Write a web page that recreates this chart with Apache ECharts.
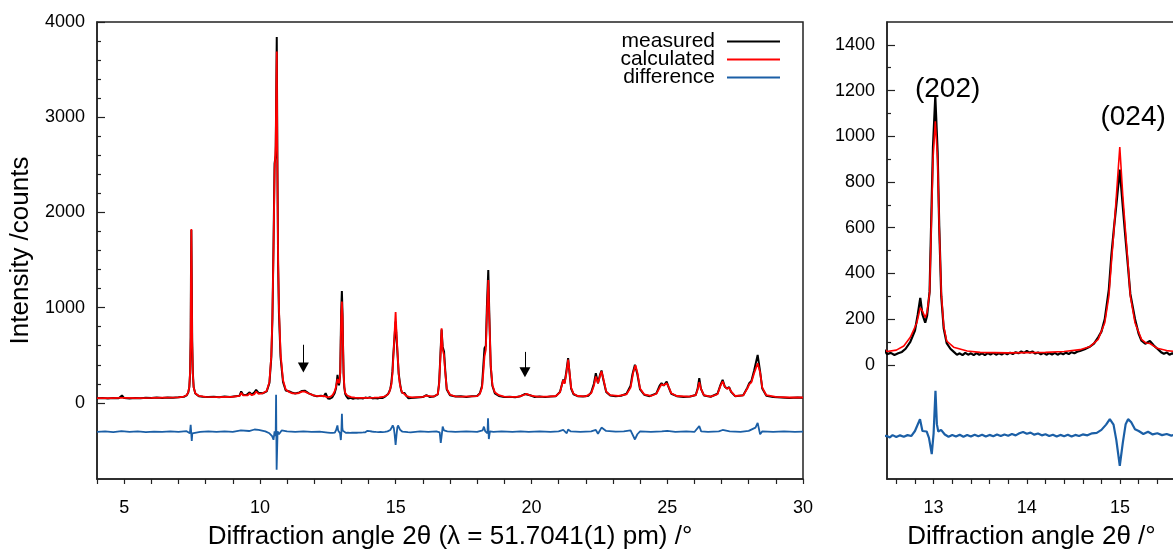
<!DOCTYPE html>
<html>
<head>
<meta charset="utf-8">
<script src="https://cdn.jsdelivr.net/npm/echarts@6/dist/echarts.min.js"></script>
<style>
html,body{margin:0;padding:0;background:#fff;}
#chart{width:1173px;height:550px;}
</style>
</head>
<body>
<div id="chart"></div>
<script>
// ---- data (2theta / deg, intensity / counts) ----
const measured = [
[4.0,48],[4.2,52],[4.4,46],[4.6,51],[4.8,47],[4.92,78],[5.0,50],[5.2,46],[5.4,52],[5.6,48],[5.8,53],[6.0,50],[6.2,55],[6.4,52],[6.6,57],[6.8,54],[7.0,58],[7.2,64],[7.3,78],[7.36,108],[7.4,165],[7.43,320],[7.45,690],[7.46,1290],[7.475,1815],[7.49,1260],[7.505,660],[7.53,310],[7.56,165],[7.62,98],[7.75,70],[7.9,64],[8.1,60],[8.3,65],[8.5,58],[8.7,66],[8.9,62],[9.1,70],[9.25,75],[9.31,120],[9.38,85],[9.5,82],[9.62,110],[9.7,88],[9.8,110],[9.86,136],[9.95,105],[10.1,100],[10.25,120],[10.35,210],[10.42,480],[10.46,880],[10.5,1650],[10.54,2515],[10.58,2600],[10.62,3843],[10.645,2450],[10.67,1450],[10.7,950],[10.76,480],[10.85,220],[10.95,130],[11.09,119],[11.2,105],[11.3,98],[11.45,110],[11.55,125],[11.65,128],[11.8,100],[11.95,80],[12.1,70],[12.25,74],[12.35,68],[12.42,101],
[12.5,46],[12.54,52],[12.58,43],[12.62,50],[12.66,56],[12.7,70],[12.75,100],[12.8,150],[12.83,220],[12.857,293],[12.88,220],[12.91,184],[12.93,215],[12.957,320],[12.975,640],[12.993,950],[13.018,1174],[13.043,930],[13.06,610],[13.082,300],[13.108,160],[13.14,95],[13.18,70],[13.22,55],[13.25,44],[13.28,50],[13.31,42],[13.34,52],[13.37,44],[13.4,50],[13.43,42],[13.46,51],[13.49,44],[13.52,50],[13.55,42],[13.58,51],[13.61,45],[13.64,52],[13.67,44],[13.7,50],[13.73,45],[13.76,52],[13.79,46],[13.82,53],[13.85,47],[13.88,55],[13.91,50],[13.94,58],[13.97,52],[14.0,60],[14.03,53],[14.06,58],[14.09,49],[14.12,54],[14.15,46],[14.18,52],[14.21,44],[14.24,51],[14.27,45],[14.3,52],[14.33,44],[14.36,51],[14.39,46],[14.42,53],[14.45,47],[14.48,55],[14.51,50],[14.54,57],[14.57,60],[14.62,68],[14.68,80],[14.72,92],[14.765,120],[14.8,145],[14.836,200],[14.88,330],[14.907,480],[14.935,600],[14.96,700],[14.997,854],[15.03,690],[15.057,560],[15.085,430],[15.11,310],[15.16,200],[15.2,135],[15.23,105],[15.27,92],[15.32,104],[15.36,85],[15.4,70],[15.44,55],[15.47,48],[15.5,54],[15.53,44],[15.56,50],[15.6,46],
[15.8,56],[16.0,60],[16.13,80],[16.25,62],[16.4,66],[16.55,90],[16.6,210],[16.65,520],[16.69,770],[16.73,590],[16.78,540],[16.82,360],[16.88,140],[17.0,80],[17.2,66],[17.4,70],[17.6,62],[17.8,68],[18.0,72],[18.1,100],[18.18,180],[18.23,400],[18.27,573],[18.32,600],[18.36,1020],[18.41,1396],[18.45,900],[18.5,380],[18.56,180],[18.65,100],[18.8,72],[19.0,60],[19.2,64],[19.4,58],[19.6,70],[19.75,92],[19.82,101],[19.95,80],[20.1,62],[20.3,66],[20.5,60],[20.7,66],[20.9,70],[21.05,115],[21.17,245],[21.22,210],[21.28,320],[21.35,469],[21.4,320],[21.46,150],[21.55,90],[21.7,70],[21.9,66],[22.1,75],[22.2,110],[22.3,200],[22.37,311],[22.45,206],[22.53,300],[22.58,339],[22.65,240],[22.75,115],[22.9,78],[23.1,70],[23.3,74],[23.5,95],[23.65,180],[23.72,300],[23.81,399],[23.9,300],[24.0,140],[24.15,85],[24.35,70],[24.6,100],[24.72,180],[24.79,206],[24.87,180],[24.98,224],[25.05,165],[25.15,95],[25.35,70],[25.6,62],[25.85,66],[26.05,82],[26.12,150],[26.18,259],[26.24,150],[26.35,78],[26.6,64],[26.85,95],[26.95,180],[27.04,241],[27.12,170],[27.2,150],[27.28,164],[27.35,115],[27.5,70],[27.8,80],[27.95,160],[28.02,206],[28.1,230],[28.2,340],[28.33,504],[28.42,330],[28.5,150],[28.65,75],[28.9,60],[29.2,56],[29.5,52],[29.8,56],[30.0,54]
];
const calculated = [
[4.0,50],[4.5,50],[4.85,52],[4.92,72],[5.0,52],[5.5,50],[6.0,52],[6.5,55],[7.0,58],[7.2,66],[7.3,80],[7.36,110],[7.4,170],[7.43,330],[7.45,700],[7.46,1300],[7.475,1826],[7.49,1250],[7.505,650],[7.53,300],[7.56,160],[7.62,100],[7.75,72],[8.0,62],[8.5,60],[9.0,64],[9.25,72],[9.31,105],[9.38,78],[9.55,78],[9.62,100],[9.7,80],[9.8,92],[9.86,118],[9.95,95],[10.1,100],[10.25,125],[10.35,220],[10.42,500],[10.46,900],[10.5,1600],[10.54,2450],[10.58,2700],[10.62,3690],[10.645,2400],[10.67,1500],[10.7,1000],[10.76,520],[10.85,240],[10.95,140],[11.09,112],[11.2,100],[11.4,100],[11.55,118],[11.65,118],[11.8,98],[12.0,75],[12.2,70],[12.35,72],[12.42,92],
[12.5,58],[12.6,64],[12.68,82],[12.75,120],[12.8,165],[12.82,184],[12.857,250],[12.88,235],[12.91,206],[12.93,230],[12.957,315],[12.975,606],[12.993,897],[13.018,1065],[13.043,897],[13.06,606],[13.082,315],[13.108,170],[13.14,104],[13.215,77],[13.36,60],[13.5,54],[13.8,52],[14.0,53],[14.2,54],[14.4,58],[14.57,66],[14.68,80],[14.765,111],[14.836,184],[14.88,300],[14.907,446],[14.935,592],[14.96,737],[14.997,953],[15.03,737],[15.057,592],[15.085,446],[15.11,300],[15.16,184],[15.23,111],[15.28,95],[15.32,93],[15.4,72],[15.5,62],[15.6,58],
[15.8,60],[16.0,62],[16.13,75],[16.2,64],[16.4,66],[16.55,90],[16.6,200],[16.65,500],[16.69,784],[16.73,560],[16.78,500],[16.82,340],[16.88,150],[17.0,85],[17.2,68],[17.5,65],[18.0,70],[18.1,95],[18.18,160],[18.23,330],[18.27,486],[18.32,560],[18.36,950],[18.41,1291],[18.45,880],[18.5,400],[18.56,190],[18.65,110],[18.8,80],[19.0,66],[19.2,62],[19.5,62],[19.7,80],[19.82,95],[19.95,78],[20.2,66],[20.6,66],[20.9,72],[21.05,110],[21.17,240],[21.22,200],[21.28,300],[21.35,455],[21.4,330],[21.46,160],[21.55,95],[21.7,72],[22.0,68],[22.2,100],[22.3,180],[22.37,276],[22.45,206],[22.53,290],[22.58,330],[22.65,250],[22.75,120],[22.9,80],[23.2,72],[23.5,90],[23.65,160],[23.75,320],[23.83,395],[23.9,320],[24.0,150],[24.15,90],[24.4,72],[24.6,95],[24.72,160],[24.79,195],[24.87,185],[24.98,205],[25.05,170],[25.15,100],[25.35,72],[25.8,65],[26.05,80],[26.12,140],[26.18,218],[26.24,150],[26.35,80],[26.6,65],[26.85,90],[26.95,170],[27.04,225],[27.12,170],[27.2,150],[27.28,158],[27.35,120],[27.5,72],[27.8,78],[27.95,150],[28.02,195],[28.1,215],[28.2,310],[28.33,416],[28.42,320],[28.5,160],[28.65,80],[29.0,62],[29.5,56],[30.0,56]
];
const difference = [
[4.0,-305],[4.3,-300],[4.6,-308],[4.9,-298],[5.2,-306],[5.5,-300],[5.8,-308],[6.1,-302],[6.4,-306],[6.7,-300],[7.0,-305],[7.3,-298],[7.42,-320],[7.45,-230],[7.47,-213],[7.49,-400],[7.51,-320],[7.56,-300],[7.8,-305],[8.1,-300],[8.4,-306],[8.7,-300],[9.0,-304],[9.3,-290],[9.6,-296],[9.8,-280],[9.86,-262],[9.95,-285],[10.2,-300],[10.35,-320],[10.45,-350],[10.5,-388],[10.54,-300],[10.58,-350],[10.595,84],[10.615,-703],[10.65,-300],[10.7,-330],[10.8,-290],[11.0,-300],[11.3,-305],[11.6,-300],[11.9,-306],[12.2,-302],
[12.5,-312],[12.53,-318],[12.56,-308],[12.6,-316],[12.64,-309],[12.68,-315],[12.72,-308],[12.76,-312],[12.8,-290],[12.854,-238],[12.88,-290],[12.925,-292],[12.95,-320],[12.98,-391],[13.0,-300],[13.02,-114],[13.035,-260],[13.05,-292],[13.08,-285],[13.12,-305],[13.16,-315],[13.2,-307],[13.24,-314],[13.28,-306],[13.32,-315],[13.36,-307],[13.4,-314],[13.44,-306],[13.48,-313],[13.52,-306],[13.56,-314],[13.6,-307],[13.64,-313],[13.68,-305],[13.72,-312],[13.76,-305],[13.8,-311],[13.84,-303],[13.88,-309],[13.92,-300],[13.96,-294],[14.0,-302],[14.04,-297],[14.08,-306],[14.12,-301],[14.16,-309],[14.2,-304],[14.24,-312],[14.28,-306],[14.32,-314],[14.36,-307],[14.4,-313],[14.44,-306],[14.48,-314],[14.52,-307],[14.56,-312],[14.6,-305],[14.65,-309],[14.7,-300],[14.75,-298],[14.8,-285],[14.85,-262],[14.89,-238],[14.93,-262],[14.96,-330],[14.997,-442],[15.03,-340],[15.06,-260],[15.086,-238],[15.12,-252],[15.16,-282],[15.2,-290],[15.25,-303],[15.3,-293],[15.35,-305],[15.4,-300],[15.45,-308],[15.5,-303],[15.55,-310],[15.6,-305],
[15.9,-300],[16.2,-306],[16.5,-300],[16.62,-310],[16.66,-420],[16.7,-330],[16.73,-250],[16.78,-290],[16.9,-300],[17.2,-305],[17.6,-300],[18.0,-306],[18.2,-290],[18.25,-250],[18.3,-300],[18.38,-320],[18.4,-161],[18.43,-380],[18.47,-300],[18.6,-305],[18.9,-300],[19.3,-306],[19.6,-300],[19.9,-304],[20.3,-300],[20.7,-306],[21.0,-300],[21.17,-285],[21.3,-320],[21.35,-280],[21.45,-300],[21.8,-304],[22.2,-300],[22.37,-285],[22.45,-325],[22.58,-260],[22.65,-245],[22.75,-295],[23.1,-302],[23.4,-300],[23.65,-290],[23.81,-385],[23.9,-330],[24.0,-300],[24.4,-306],[24.8,-300],[25.0,-295],[25.3,-304],[25.7,-300],[26.0,-306],[26.18,-245],[26.25,-300],[26.5,-304],[26.9,-300],[27.04,-285],[27.3,-300],[27.7,-306],[28.0,-295],[28.25,-260],[28.33,-210],[28.42,-330],[28.5,-300],[28.9,-306],[29.3,-300],[29.7,-305],[30.0,-303]
];
// tick values
const leftYLabels = [0, 1000, 2000, 3000, 4000];
const leftYMinor = [200,400,600,800,1200,1400,1600,1800,2200,2400,2600,2800,3200,3400,3600,3800];
const rightYLabels = [0, 200, 400, 600, 800, 1000, 1200, 1400];
const rightYMinor = [100, 300, 500, 700, 900, 1100, 1300];
const rightXTicks = [12.6,12.8,13.0,13.2,13.4,13.6,13.8,14.0,14.2,14.4,14.6,14.8,15.0,15.2,15.4,15.6];
const rightXLabels = [13, 14, 15];
const arrowsAt = [[11.6, 610, 372], [19.76, 535, 320]];
const peakLabels = [{name:'(202)', x:13.15, y:1207}, {name:'(024)', x:15.14, y:1085}];

const FONT = "'Liberation Sans', Arial, Helvetica, sans-serif";
const AX = '#222';
const C_MEAS = '#000000', C_CALC = '#ff0000', C_DIFF = '#1b5fa6';

const chart = echarts.init(document.getElementById('chart'), null, {renderer:'canvas'});
const plain = v => String(Math.round(v * 1000) / 1000);

function xAxisBase(grid, min, max){
  return {
    type:'value', gridIndex:grid, min:min, max:max,
    axisLine:{show:true, onZero:false, lineStyle:{color:AX, width:1.5}},
    splitLine:{show:false},
    axisTick:{show:true, inside:false, length:5, lineStyle:{color:AX, width:1.2}},
    axisLabel:{color:'#000', fontSize:18, fontFamily:FONT, margin:20, formatter:plain},
    nameLocation:'middle', nameGap:45,
    nameTextStyle:{color:'#000', fontSize:26, fontFamily:FONT}
  };
}
function yAxisBase(grid, min, max){
  return {
    type:'value', gridIndex:grid, min:min, max:max, position:'left',
    axisLine:{show:true, onZero:false, lineStyle:{color:AX, width:1.5}},
    splitLine:{show:false},
    axisTick:{show:true, inside:true, length:8, lineStyle:{color:AX, width:1.2}},
    axisLabel:{color:'#000', fontSize:18, fontFamily:FONT, margin:12, formatter:plain}
  };
}

const xa0 = xAxisBase(0, 4, 30);
xa0.interval = 1;
xa0.axisLabel.formatter = v => (Math.round(v) % 5 === 0 ? String(Math.round(v)) : '');
xa0.name = 'Diffraction angle 2θ (λ = 51.7041(1) pm) /°';

const xa1 = xAxisBase(1, 12.5, 15.6);
xa1.axisTick.customValues = rightXTicks;
xa1.axisLabel.customValues = rightXLabels;
xa1.name = 'Diffraction angle 2θ /°';

const ya0 = yAxisBase(0, -800, 4000);
ya0.axisTick.customValues = leftYLabels;
ya0.axisLabel.customValues = leftYLabels;
ya0.name = 'Intensity /counts';
ya0.nameLocation = 'middle';
ya0.nameGap = 60;
ya0.nameTextStyle = {color:'#000', fontSize:26, fontFamily:FONT};

const ya0m = yAxisBase(0, -800, 4000);
ya0m.axisLine = {show:false, onZero:false};
ya0m.axisLabel = {show:false};
ya0m.axisTick = {show:true, inside:true, length:4, customValues:leftYMinor, lineStyle:{color:AX, width:1.2}};

const ya1 = yAxisBase(1, -500, 1500);
ya1.axisTick.customValues = rightYLabels;
ya1.axisLabel.customValues = rightYLabels;

const ya1m = yAxisBase(1, -500, 1500);
ya1m.axisLine = {show:false, onZero:false};
ya1m.axisLabel = {show:false};
ya1m.axisTick = {show:true, inside:true, length:4, customValues:rightYMinor, lineStyle:{color:AX, width:1.2}};

function lineSeries(name, data, color, xi, yi, width, z){
  return {
    name:name, type:'line', data:data, xAxisIndex:xi, yAxisIndex:yi,
    showSymbol:false, symbol:'none', clip:true, z:z,
    lineStyle:{color:color, width:width}, itemStyle:{color:color},
    emphasis:{disabled:true}, silent:true, animation:false
  };
}

const s = [
  lineSeries('measured', measured, C_MEAS, 0, 0, 2, 2),
  lineSeries('calculated', calculated, C_CALC, 0, 0, 1.8, 3),
  lineSeries('difference', difference, C_DIFF, 0, 0, 1.8, 2),
  lineSeries('measured', measured, C_MEAS, 1, 2, 2.2, 2),
  lineSeries('calculated', calculated, C_CALC, 1, 2, 1.6, 3),
  lineSeries('difference', difference, C_DIFF, 1, 2, 2.2, 2)
];
s[0].markLine = {
  silent:true, animation:false, symbol:['none','triangle'], symbolSize:[11,10],
  lineStyle:{color:'#000', width:1, type:'solid'}, itemStyle:{color:'#000'},
  label:{show:false}, emphasis:{disabled:true},
  data: arrowsAt.map(a => [{coord:[a[0], a[1]]}, {coord:[a[0], a[2]]}])
};
s[4].markPoint = {
  silent:true, animation:false, symbol:'circle', symbolSize:0,
  label:{show:true, position:'inside', color:'#000', fontSize:28, fontFamily:FONT, formatter: p => p.name},
  data: peakLabels.map(p => ({name:p.name, coord:[p.x, p.y]}))
};

chart.setOption({
  animation:false,
  backgroundColor:'#fff',
  textStyle:{fontFamily:FONT},
  grid:[
    {left:97, top:22, width:706, height:457, show:true, borderColor:AX, borderWidth:1.5, backgroundColor:'transparent', containLabel:false, outerBoundsMode:'none'},
    {left:887, top:22, width:289, height:457, show:true, borderColor:AX, borderWidth:1.5, backgroundColor:'transparent', containLabel:false, outerBoundsMode:'none'}
  ],
  legend:{
    data:['measured','calculated','difference'], orient:'vertical', right:388, top:26,
    align:'right', icon:'rect', itemWidth:53, itemHeight:2, itemGap:-3,
    textStyle:{fontSize:21, lineHeight:16, color:'#000', fontFamily:FONT, padding:[0,7,0,0]},
    selectedMode:false
  },
  xAxis:[xa0, xa1],
  yAxis:[ya0, ya0m, ya1, ya1m],
  series:s
});
</script>
</body>
</html>
